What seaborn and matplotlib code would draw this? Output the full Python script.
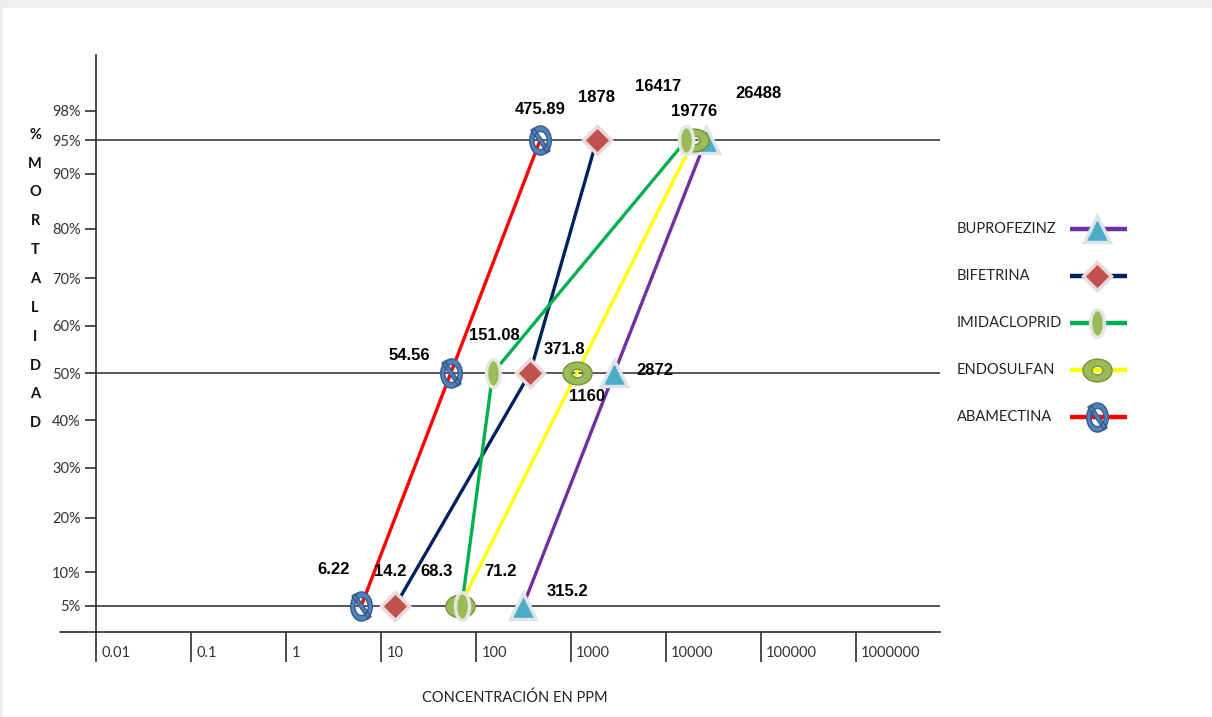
import numpy as np
import pandas as pd
import matplotlib
matplotlib.use("Agg")
import matplotlib.pyplot as plt
import seaborn as sns
from matplotlib.path import Path
from matplotlib.patches import Rectangle

# ---------------- data ----------------
productos = ["BUPROFEZINZ", "BIFETRINA", "IMIDACLOPRID", "ENDOSULFAN", "ABAMECTINA"]
niveles = [5, 50, 95]                      # % mortalidad (CL5, CL50, CL95)
buprofezinz = [315.2, 2872, 26488]         # ppm
bifetrina = [14.2, 371.8, 1878]
imidacloprid = [71.2, 151.08, 16417]
endosulfan = [68.3, 1160, 19776]
abamectina = [6.22, 54.56, 475.89]

y_ticks = [5, 10, 20, 30, 40, 50, 60, 70, 80, 90, 95, 98]
x_ticks = [0.01, 0.1, 1, 10, 100, 1000, 10000, 100000, 1000000]
x_tick_labels = ["0.01", "0.1", "1", "10", "100", "1000", "10000", "100000", "1000000"]

valores = {
    "BUPROFEZINZ": buprofezinz,
    "BIFETRINA": bifetrina,
    "IMIDACLOPRID": imidacloprid,
    "ENDOSULFAN": endosulfan,
    "ABAMECTINA": abamectina,
}
df = pd.DataFrame(
    [(p, n, v) for p in productos for n, v in zip(niveles, valores[p])],
    columns=["producto", "mortalidad", "ppm"],
)

# ---------------- mortality scale: linear blended with logit ----------------
LOGIT_WEIGHT = 4.7

def mort_fwd(p):
    q = np.clip(np.asarray(p, dtype=float) / 100.0, 1e-6, 1 - 1e-6)
    return q * 100.0 + LOGIT_WEIGHT * np.log(q / (1 - q))

_grid = np.linspace(0.001, 99.999, 200001)
_fgrid = mort_fwd(_grid)

def mort_inv(f):
    return np.interp(f, _fgrid, _grid)

# ---------------- marker shapes ----------------
def ring(rx, ry, inner, n=72):
    t = np.linspace(0, 2 * np.pi, n)
    outer = np.column_stack([rx * np.cos(t), ry * np.sin(t)])
    hole = np.column_stack([inner * rx * np.cos(t[::-1]), inner * ry * np.sin(t[::-1])])
    verts = np.vstack([outer, hole])
    codes = ([Path.MOVETO] + [Path.LINETO] * (n - 2) + [Path.CLOSEPOLY]) * 2
    return verts, codes

def donut_path():
    v, c = ring(1.0, 0.78, 0.38)
    return Path(v, c)

def no_symbol_path():
    v, c = ring(0.74, 1.0, 0.62)
    # diagonal bar across the ring
    a = np.array([-0.55, 0.78]); b = np.array([0.55, -0.78])
    d = b - a; nrm = np.array([-d[1], d[0]]) / np.hypot(*d) * 0.13
    bar = np.array([a + nrm, a - nrm, b - nrm, b + nrm, a + nrm])
    verts = np.vstack([v, bar])
    codes = c + [Path.MOVETO, Path.LINETO, Path.LINETO, Path.LINETO, Path.CLOSEPOLY]
    return Path(verts, codes)

def oval_path(n=72):
    t = np.linspace(0, 2 * np.pi, n)
    v = np.column_stack([0.5 * np.cos(t), np.sin(t)])
    return Path(v, [Path.MOVETO] + [Path.LINETO] * (n - 2) + [Path.CLOSEPOLY])

line_colors = {
    "BUPROFEZINZ": "#7030A0",
    "BIFETRINA": "#002060",
    "IMIDACLOPRID": "#00B050",
    "ENDOSULFAN": "#FFFF00",
    "ABAMECTINA": "#FF0000",
}
marker_style = {
    "BUPROFEZINZ": dict(marker="^", ms=19, mfc="#4BACC6", mec="#DDE5EA", mew=2.5),
    "BIFETRINA": dict(marker="D", ms=14, mfc="#C0504D", mec="#E9D9D9", mew=2.5),
    "IMIDACLOPRID": dict(marker=oval_path(), ms=20, mfc="#9BBB59", mec="#E4E8DE", mew=2.5),
    "ENDOSULFAN": dict(marker=donut_path(), ms=21, mfc="#9BBB59", mec="#76923C", mew=1.0),
    "ABAMECTINA": dict(marker=no_symbol_path(), ms=21, mfc="#4F81BD", mec="#385D8A", mew=1.0),
}

# label offsets (points) for each value, per product and level
label_offsets = {
    "ABAMECTINA": [(-20, 26), (-30, 13), (0, 22)],
    "BIFETRINA": [(-4, 25), (25, 17), (0, 31)],
    "ENDOSULFAN": [(-17, 25), (7, -17), (0, 21)],
    "IMIDACLOPRID": [(28, 25), (1, 27), (-20, 39)],
    "BUPROFEZINZ": [(32, 10), (29, 2), (38, 34)],
}
bold_family = ["Liberation Sans Narrow", "Liberation Sans", "DejaVu Sans"]

# ---------------- figure ----------------
sns.set_theme(style="white")
plt.rcParams["font.family"] = ["Lato", "DejaVu Sans"]

fig = plt.figure(figsize=(12.12, 7.17), dpi=100, facecolor="#EEEEEE")
fig.patches.append(Rectangle((3 / 1212, 0), 1, (717 - 8) / 717,
                             transform=fig.transFigure, color="white", zorder=-10))
ax = fig.add_axes([96 / 1212, (717 - 632) / 717, 844 / 1212, (632 - 55) / 717])
ax.set_facecolor("none")

sns.lineplot(data=df, x="ppm", y="mortalidad", hue="producto",
             palette=line_colors, linewidth=2.4, legend=False, sort=False,
             ax=ax, zorder=3)

ax.set_xscale("log")
ax.set_xlim(0.01, 10 ** 6.89)
ax.set_yscale("function", functions=(mort_fwd, mort_inv))
ax.set_ylim(2.26, 99.85)

# reference levels
for lvl in (5, 50, 95):
    ax.axhline(lvl, color="#3A3A3A", lw=1.2, zorder=1)

# markers, drawn from the same values
for p in ["BUPROFEZINZ", "ENDOSULFAN", "BIFETRINA", "IMIDACLOPRID", "ABAMECTINA"]:
    ax.plot(valores[p], niveles, ls="none", zorder=5, **marker_style[p])

# value labels
for p in productos:
    for v, n, off in zip(valores[p], niveles, label_offsets[p]):
        ax.annotate(f"{v:g}", xy=(v, n), xytext=off, textcoords="offset points",
                    ha="center", va="center", fontsize=12, fontweight="bold",
                    family=bold_family, color="black", zorder=6)

# axes styling
for s in ("top", "right"):
    ax.spines[s].set_visible(False)
for s in ("left", "bottom"):
    ax.spines[s].set_color("#2B2B2B")
    ax.spines[s].set_linewidth(1.2)
ax.plot([-36 / 844, 0], [0, 0], transform=ax.transAxes, color="#2B2B2B",
        lw=1.2, clip_on=False)

ax.set_yticks(y_ticks)
ax.set_yticklabels([f"{t}%" for t in y_ticks], fontsize=10.5, color="#333333")
ax.yaxis.set_minor_locator(matplotlib.ticker.NullLocator())
ax.tick_params(axis="y", direction="out", length=8, width=1.2, color="#2B2B2B",
               left=True, pad=3)
ax.set_xticks(x_ticks)
ax.set_xticklabels([""] * len(x_ticks))
ax.xaxis.set_minor_locator(matplotlib.ticker.NullLocator())
ax.tick_params(axis="x", direction="out", length=21.5, width=1.2, color="#2B2B2B",
               bottom=True, which="major")
for v, lab in zip(x_ticks, x_tick_labels):
    ax.annotate(lab, xy=(v, 0), xycoords=("data", "axes fraction"),
                xytext=(4, -10), textcoords="offset points", ha="left", va="top",
                fontsize=10.5, color="#333333")
ax.set_xlabel("")
ax.set_ylabel("")
ax.grid(False)

fig.text(515 / 1212, 1 - 698 / 717, "CONCENTRACIÓN EN PPM", ha="center",
         va="center", fontsize=10.5, color="#222222")
fig.text(35 / 1212, 1 - 279 / 717, "\n".join("%MORTALIDAD"), ha="center",
         va="center", fontsize=10.5, fontweight="bold", color="#111111",
         linespacing=2.35)

# legend: label on the left, then line sample with the marker
lax = fig.add_axes([0, 0, 1, 1], zorder=2)
lax.set_xlim(0, 1212)
lax.set_ylim(717, 0)
lax.axis("off")
lax.set_facecolor("none")
for i, p in enumerate(productos):
    yy = 229 + 47 * i
    lax.text(957, yy, p, ha="left", va="center", fontsize=10.5, color="#222222")
    lax.plot([1070, 1127], [yy, yy], color=line_colors[p], lw=3.2,
             solid_capstyle="butt")
    lax.plot([1097], [yy], ls="none", **marker_style[p])

fig.savefig("out.png", dpi=100, facecolor=fig.get_facecolor())
